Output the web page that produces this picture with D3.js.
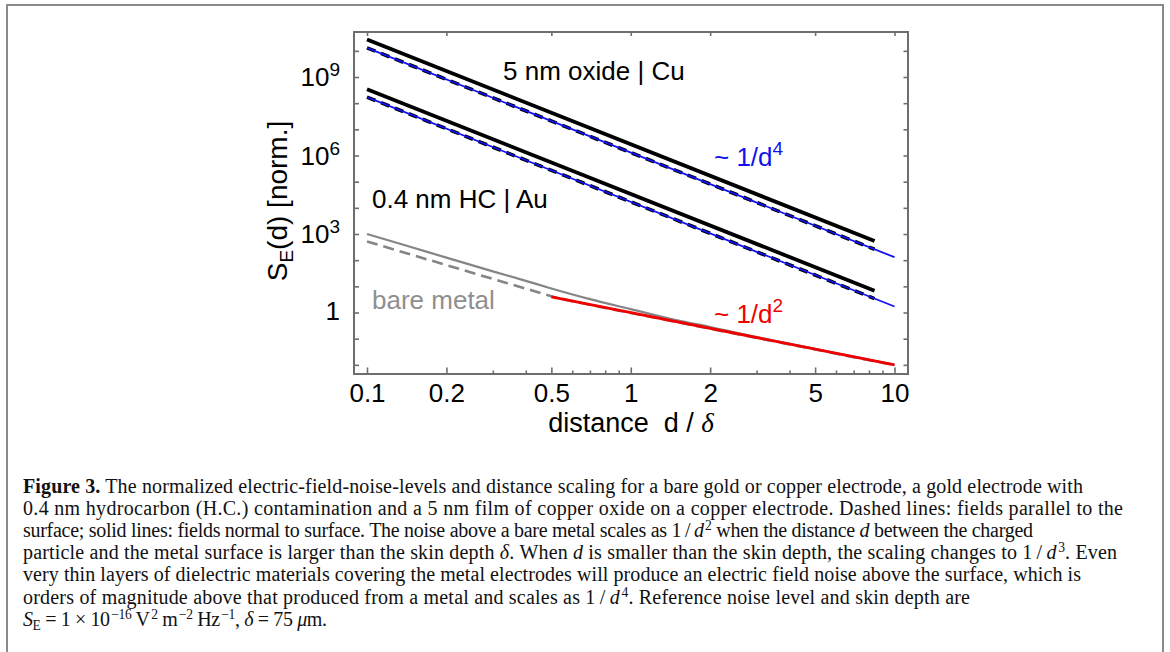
<!DOCTYPE html>
<html><head><meta charset="utf-8">
<script src="https://cdn.jsdelivr.net/npm/d3@7"></script>
<style>body{margin:0;background:#fff}svg{display:block}</style>
</head><body><svg id="c" width="1170" height="652"></svg>
<script>
// ---------- data ----------
const xMajorTicks = [0.1, 0.2, 0.5, 1, 2, 5, 10];
const xMinorTicks = [0.3, 0.4, 0.6, 0.7, 0.8, 0.9, 3, 4, 6, 7, 8, 9];
const yDecadeTicks = [1e-2, 1e-1, 1, 1e1, 1e2, 1e3, 1e4, 1e5, 1e6, 1e7, 1e8, 1e9, 1e10];
const yLabelValues = [1, 1e3, 1e6, 1e9];
const yLabelBase = ["1", "10", "10", "10"];
const yLabelExp = ["", "3", "6", "9"];

const bareD = [0.1, 0.15, 0.2, 0.3, 0.4, 0.5, 0.7, 1, 1.5, 2, 3, 5, 7, 10];
const bareNormal = [1000, 300, 125, 37.5, 16.2, 8.3, 3.25, 1.35, 0.5, 0.28, 0.115, 0.041, 0.0205, 0.0101];
const bareParallel = [520, 154, 65, 19.3, 8.2, 4.2, 1.97, 0.96, 0.43, 0.24, 0.107, 0.039, 0.0197, 0.0098];

const fit2D = [0.5, 10];
const fit2V = [4, 0.01];

const filmD = [0.1, 8.4];
const fit4D = [0.1, 10];
const cuNormal = [2.7e10, 540];
const cuParallel = [1.3e10, 261];
const cuFit = [1.3e10, 130];
const hcNormal = [3.4e8, 6.8];
const hcParallel = [1.7e8, 3.4];
const hcFit = [1.7e8, 1.7];

const captionLines = [
  [["Figure 3.", "b"], [" The normalized electric-field-noise-levels and distance scaling for a bare gold or copper electrode, a gold electrode with"]],
  [["0.4 nm hydrocarbon (H.C.) contamination and a 5 nm film of copper oxide on a copper electrode. Dashed lines: fields parallel to the"]],
  [["surface; solid lines: fields normal to surface. The noise above a bare metal scales as 1\u2009/\u2009"], ["d", "i"], ["2", "sup"], [" when the distance "], ["d", "i"], [" between the charged"]],
  [["particle and the metal surface is larger than the skin depth "], ["δ", "i"], [". When "], ["d", "i"], [" is smaller than the skin depth, the scaling changes to 1\u2009/\u2009"], ["d", "i"], ["3", "sup"], [". Even"]],
  [["very thin layers of dielectric materials covering the metal electrodes will produce an electric field noise above the surface, which is"]],
  [["orders of magnitude above that produced from a metal and scales as 1\u2009/\u2009"], ["d", "i"], ["4", "sup"], [". Reference noise level and skin depth are"]],
  [["S", "i"], ["E", "sub"], [" = 1 × 10"], ["−16", "sup"], [" V"], ["2", "sup"], [" m"], ["−2", "sup"], [" Hz"], ["−1", "sup"], [", "], ["δ", "i"], [" = 75 "], ["μ", "i"], ["m."]]
];
const captionWidths = [1060, 1100, 1010, 1094, 1058, 947, 304];

// ---------- layout ----------
const svg = d3.select("#c");
const L = 354, R = 908, T = 32, B = 374;
const x = d3.scaleLog().domain([0.08927, 11.25]).range([L, R]);
const y = d3.scaleLog().domain([0.00447, 5.25e10]).range([B, T]);
const SANS = "'Liberation Sans', Arial, sans-serif";
const SERIF = "'Liberation Serif', 'Times New Roman', serif";
const AX = "#6e6e6e";

// figure border
svg.append("rect").attr("x", 7).attr("y", 5).attr("width", 1156).attr("height", 720)
  .attr("fill", "none").attr("stroke", "#8a8a8a").attr("stroke-width", 2);

// axes ticks
function styleAxis(g) {
  g.select(".domain").remove();
  g.selectAll(".tick line").attr("stroke", AX).attr("stroke-width", 1.6);
}
svg.append("g").attr("transform", `translate(0,${B})`)
  .call(d3.axisBottom(x).tickValues(xMajorTicks).tickSize(-6.5).tickPadding(10).tickFormat(d => String(d)))
  .call(styleAxis)
  .call(g => g.selectAll("text").attr("font-family", SANS).attr("font-size", 26).attr("fill", "#000"));
svg.append("g").attr("transform", `translate(0,${B})`)
  .call(d3.axisBottom(x).tickValues(xMinorTicks).tickSize(-3.5).tickFormat(""))
  .call(styleAxis);
svg.append("g").attr("transform", `translate(0,${T})`)
  .call(d3.axisTop(x).tickValues(xMajorTicks).tickSize(-4).tickFormat(""))
  .call(styleAxis);
svg.append("g").attr("transform", `translate(${L},0)`)
  .call(d3.axisLeft(y).tickValues(yDecadeTicks).tickSize(-5).tickFormat(""))
  .call(styleAxis);
svg.append("g").attr("transform", `translate(${R},0)`)
  .call(d3.axisRight(y).tickValues(yDecadeTicks).tickSize(-4.5).tickFormat(""))
  .call(styleAxis);

// y tick labels with superscripts
yLabelValues.forEach((v, i) => {
  const t = svg.append("text").attr("x", 340).attr("y", y(v) + (yLabelExp[i] ? 9 : 7))
    .attr("text-anchor", "end").attr("font-family", SANS).attr("font-size", 26).attr("fill", "#000");
  t.append("tspan").text(yLabelBase[i]);
  if (yLabelExp[i]) t.append("tspan").attr("dy", -10).attr("font-size", 19).text(yLabelExp[i]);
});

// frame
svg.append("rect").attr("x", L).attr("y", T).attr("width", R - L).attr("height", B - T)
  .attr("fill", "none").attr("stroke", AX).attr("stroke-width", 2);

// ---------- lines ----------
const line = d3.line().x(d => x(d[0])).y(d => y(d[1])).curve(d3.curveMonotoneX);
const zip = (a, b) => a.map((v, i) => [v, b[i]]);
function draw(pts, color, w, dash) {
  const p = svg.append("path").attr("d", line(pts)).attr("fill", "none")
    .attr("stroke", color).attr("stroke-width", w).attr("stroke-linecap", "butt");
  if (dash) p.attr("stroke-dasharray", dash);
}
draw(zip(bareD, bareParallel), "#858585", 2.6, "11,6");
draw(zip(bareD, bareNormal), "#858585", 2.2);
draw(zip(fit2D, fit2V), "#f00000", 2.8);
draw(zip(filmD, cuParallel), "#000", 3.6, "9,6");
draw(zip(filmD, hcParallel), "#000", 3.6, "9,6");
draw(zip(fit4D, cuFit), "#1010f0", 1.8);
draw(zip(fit4D, hcFit), "#1010f0", 1.8);
draw(zip(filmD, cuNormal), "#000", 3.8);
draw(zip(filmD, hcNormal), "#000", 3.8);

// ---------- annotations ----------
function label(xp, yp, color) {
  return svg.append("text").attr("x", xp).attr("y", yp).attr("font-family", SANS)
    .attr("font-size", 26).attr("fill", color);
}
label(503, 79.5, "#000").text("5 nm oxide | Cu");
label(372, 208, "#000").text("0.4 nm HC | Au");
label(372, 309, "#8f8f8f").text("bare metal");
let t4 = label(714, 166, "#1010f0");
t4.append("tspan").attr("font-size", 26).text("~");
t4.append("tspan").text(" 1/d");
t4.append("tspan").attr("dy", -11).attr("font-size", 19).text("4");
let t2 = label(714, 323, "#f00000");
t2.append("tspan").attr("font-size", 26).text("~");
t2.append("tspan").text(" 1/d");
t2.append("tspan").attr("dy", -11).attr("font-size", 19).text("2");

// axis titles
const xt = svg.append("text").attr("x", (L + R) / 2).attr("y", 432).attr("text-anchor", "middle")
  .attr("font-family", SANS).attr("font-size", 27).attr("fill", "#000");
xt.append("tspan").text("distance\u00a0 d / ");
xt.append("tspan").attr("font-family", SERIF).attr("font-style", "italic").text("δ");

const yt = svg.append("text").attr("transform", `translate(287,${(T + B) / 2 - 2}) rotate(-90)`)
  .attr("text-anchor", "middle").attr("font-family", SANS).attr("font-size", 28).attr("fill", "#000");
yt.append("tspan").text("S");
yt.append("tspan").attr("dy", 6).attr("font-size", 19).text("E");
yt.append("tspan").attr("dy", -6).text("(d) [norm.]");

// ---------- caption ----------
const capX = 23, capY0 = 493, capDY = 22.1, capFS = 20;
captionLines.forEach((segs, i) => {
  const t = svg.append("text").attr("x", capX).attr("y", capY0 + i * capDY)
    .attr("font-family", SERIF).attr("font-size", capFS).attr("fill", "#111")
    .attr("xml:space", "preserve")
    .attr("textLength", captionWidths[i]).attr("lengthAdjust", "spacing");
  let shift = 0;
  segs.forEach(([txt, st]) => {
    const s = t.append("tspan").text(txt);
    let target = 0;
    if (st === "b") s.attr("font-weight", "bold");
    if (st === "i") s.attr("font-style", "italic");
    if (st === "sup") { target = -7; s.attr("font-size", capFS * 0.68).attr("dx", 1.5); }
    if (st === "sub") { target = 4; s.attr("font-size", capFS * 0.68); }
    if (target !== shift) { s.attr("dy", target - shift); shift = target; }
  });
});
</script></body></html>
